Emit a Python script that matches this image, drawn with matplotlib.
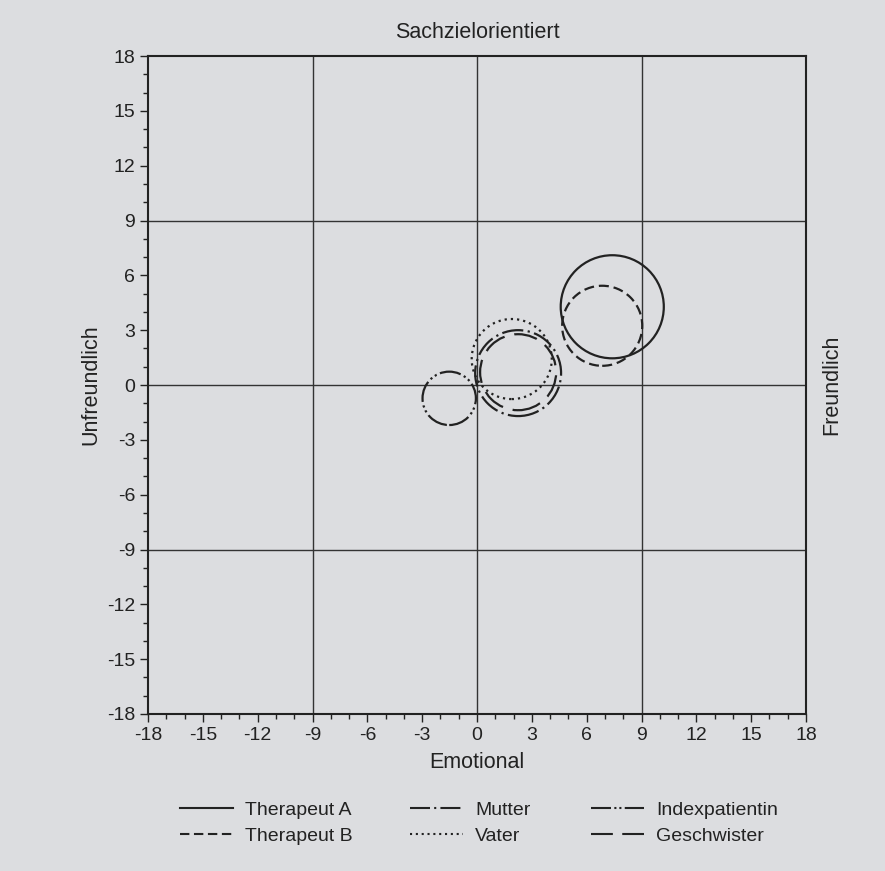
import numpy as np
import matplotlib
matplotlib.use("Agg")
import matplotlib.pyplot as plt
from matplotlib.patches import Circle
from matplotlib.lines import Line2D
from matplotlib.ticker import MultipleLocator

plt.rcParams['font.family'] = ['Liberation Sans', 'DejaVu Sans']
plt.rcParams['axes.unicode_minus'] = False

# circle data: centre x, centre y, radius (axis units)
names = ["Therapeut A", "Therapeut B", "Mutter", "Vater", "Indexpatientin", "Geschwister"]
cx = [7.4, 6.85, 2.25, 1.9, -1.52, 2.25]
cy = [4.28, 3.24, 0.65, 1.42, -0.73, 0.7]
radius = [2.82, 2.19, 2.35, 2.19, 1.46, 2.08]
styles = ['-', (0, (4.5, 2.2)), (0, (9.6, 2, 1, 2)), (0, (1, 1.8)),
          (0, (9.6, 1.6, 1, 1.4, 1, 1.6)), (0, (10.5, 4.5))]

ticks = np.arange(-18, 19, 3)
grid_at = [-9, 0, 9]
bg = "#dcdde0"
ink = "#222222"

fig = plt.figure(figsize=(8.85, 8.71), dpi=100, facecolor=bg)
ax = fig.add_axes([148/885, 157/871, 658/885, 658/871], facecolor=bg)

for g in grid_at:
    ax.axhline(g, color="#333333", lw=1.0, zorder=1)
    ax.axvline(g, color="#333333", lw=1.0, zorder=1)

for i in range(len(names)):
    c = Circle((cx[i], cy[i]), radius[i], fill=False, ec=ink, lw=1.6, ls=styles[i], zorder=3)
    ax.add_patch(c)

ax.set_xlim(-18, 18)
ax.set_ylim(-18, 18)
ax.set_xticks(ticks)
ax.set_yticks(ticks)
ax.xaxis.set_minor_locator(MultipleLocator(1))
ax.yaxis.set_minor_locator(MultipleLocator(1))
ax.tick_params(which="major", direction="out", length=5.8, width=1.0, color=ink,
               labelsize=14, labelcolor=ink, pad=3.5)
ax.tick_params(which="minor", direction="out", length=3.6, width=1.0, color=ink)
for s in ax.spines.values():
    s.set_color(ink)
    s.set_linewidth(1.5)

ax.set_title("Sachzielorientiert", fontsize=15.5, color=ink, pad=13)
ax.set_xlabel("Emotional", fontsize=15.5, color=ink)
ax.set_ylabel("Unfreundlich", fontsize=15.5, color=ink)
ax.xaxis.set_label_coords(0.5, -0.058)
ax.yaxis.set_label_coords(-0.071, 0.5)
ax.text(832/885, (871-385)/871, "Freundlich", transform=fig.transFigure, rotation=90,
        ha="center", va="center", fontsize=15.5, color=ink)

# legend: three columns placed by hand
handles = [Line2D([], [], color=ink, lw=1.5, ls=styles[i]) for i in range(len(names))]
col_x = [180, 410, 591]
for k in range(3):
    fig.legend(handles[2*k:2*k+2], names[2*k:2*k+2], loc="center left",
               bbox_to_anchor=(col_x[k]/885, (871-823)/871), frameon=False,
               fontsize=14, handlelength=2.75, labelspacing=0.42,
               handletextpad=0.6, borderpad=0, borderaxespad=0, labelcolor=ink)

fig.savefig("out.png", dpi=100, facecolor=bg)
